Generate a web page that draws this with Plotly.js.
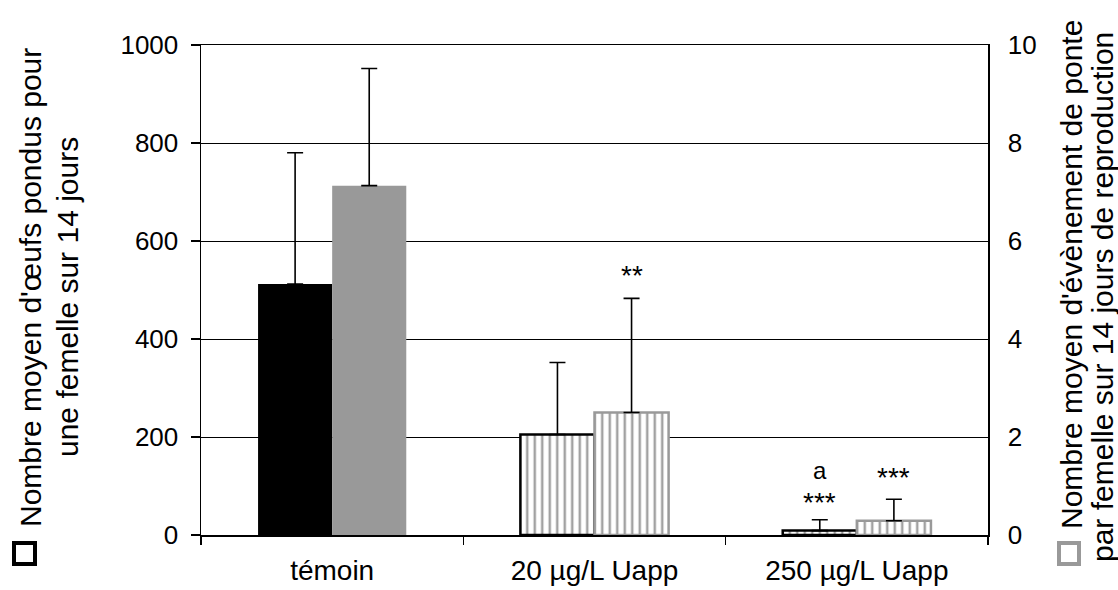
<!DOCTYPE html>
<html>
<head>
<meta charset="utf-8">
<script src="https://cdn.plot.ly/plotly-3.0.1.min.js"></script>
<style>html,body{margin:0;padding:0;background:#fff;}#chart{width:1118px;height:590px;}</style>
</head>
<body>
<div id="chart"></div>
<script>
// ---- data ----
var categories = ["témoin", "20 µg/L Uapp", "250 µg/L Uapp"];
var eggsMean = [512, 205, 9];
var eggsErrUp = [268, 147, 22];
var eventsMean = [7.13, 2.5, 0.29];
var eventsErrUp = [2.39, 2.33, 0.44];
var leftTicks = [0, 200, 400, 600, 800, 1000];
var rightTicks = [0, 2, 4, 6, 8, 10];
var leftTitle = ["Nombre moyen d'œufs pondus pour", "une femelle sur 14 jours"];
var rightTitle = ["Nombre moyen d'évènement de ponte", "par femelle sur 14 jours de reproduction"];
var sigLabels = [
  {cat: 1, series: "events", text: "**", y: 5.3, size: 28},
  {cat: 2, series: "eggs", text: "a", y: 131, size: 24},
  {cat: 2, series: "eggs", text: "***", y: 67, size: 28},
  {cat: 2, series: "events", text: "***", y: 1.18, size: 28}
];

// ---- layout helpers (pixel geometry) ----
var L = 201, R = 988, T = 45, B = 535;
function px(x){ return (x - L) / (R - L); }
function py(y){ return (B - y) / (B - T); }
var FONT = "Liberation Sans, Arial, sans-serif";
var GRAY = "#999999";

var eggs = {
  type: "bar", x: categories, y: eggsMean, yaxis: "y",
  offsetgroup: "1", alignmentgroup: "a",
  marker: {
    color: ["black", "white", "white"],
    line: {color: "black", width: [0, 2.5, 2.5]},
    pattern: {shape: ["", "|", "|"], fgcolor: "black", bgcolor: ["black", "white", "white"],
              fillmode: "overlay", size: 7.5, solidity: 0.33}
  },
  error_y: {type: "data", symmetric: false, array: eggsErrUp, arrayminus: [0,0,0],
            color: "black", thickness: 1.6, width: 8},
  showlegend: false, hoverinfo: "skip"
};
var events = {
  type: "bar", x: categories, y: eventsMean, yaxis: "y2",
  offsetgroup: "2", alignmentgroup: "a",
  marker: {
    color: [GRAY, "white", "white"],
    line: {color: GRAY, width: [0, 2.5, 2.5]},
    pattern: {shape: ["", "|", "|"], fgcolor: GRAY, bgcolor: [GRAY, "white", "white"],
              fillmode: "overlay", size: 7.5, solidity: 0.33}
  },
  error_y: {type: "data", symmetric: false, array: eventsErrUp, arrayminus: [0,0,0],
            color: "black", thickness: 1.6, width: 8},
  showlegend: false, hoverinfo: "skip"
};

var annotations = [];
sigLabels.forEach(function(s){
  annotations.push({
    x: categories[s.cat], xref: "x", y: s.y, yref: s.series === "eggs" ? "y" : "y2",
    xshift: s.series === "eggs" ? -37 : 37,
    text: s.text, showarrow: false, font: {family: FONT, size: s.size, color: "black"},
    xanchor: "center", yanchor: "middle"
  });
});
// axis titles
var TF = {family: FONT, size: 30, color: "black"};
annotations.push({xref: "paper", yref: "paper", x: px(30), y: py(288), text: leftTitle[0],
  textangle: -90, showarrow: false, font: TF, xanchor: "center", yanchor: "middle"});
annotations.push({xref: "paper", yref: "paper", x: px(67), y: py(297), text: leftTitle[1],
  textangle: -90, showarrow: false, font: TF, xanchor: "center", yanchor: "middle"});
annotations.push({xref: "paper", yref: "paper", x: px(1071), y: py(275), text: rightTitle[0],
  textangle: -90, showarrow: false, font: TF, xanchor: "center", yanchor: "middle"});
annotations.push({xref: "paper", yref: "paper", x: px(1102), y: py(297), text: rightTitle[1],
  textangle: -90, showarrow: false, font: TF, xanchor: "center", yanchor: "middle"});

var shapes = [
  {type: "rect", xref: "paper", yref: "paper", x0: px(14), x1: px(35), y0: py(564), y1: py(543),
   line: {color: "black", width: 4}, fillcolor: "white"},
  {type: "rect", xref: "paper", yref: "paper", x0: px(1059), x1: px(1079), y0: py(564), y1: py(543),
   line: {color: GRAY, width: 4}, fillcolor: "white"}
];

var layout = {
  width: 1118, height: 590,
  margin: {l: L, r: 1118 - R, t: T, b: 590 - B},
  paper_bgcolor: "white", plot_bgcolor: "white",
  barmode: "group", bargap: 0.435, bargroupgap: 0,
  font: {family: FONT, color: "black"},
  xaxis: {
    type: "category", categoryorder: "array", categoryarray: categories,
    showline: true, linecolor: "black", linewidth: 1.5, mirror: true,
    ticks: "outside", tickson: "boundaries", ticklen: 8, tickwidth: 1.5, tickcolor: "black",
    tickfont: {family: FONT, size: 28, color: "black"}, ticklabelstandoff: 10,
    showgrid: false, zeroline: false, fixedrange: true
  },
  yaxis: {
    range: [0, 1000], tickvals: leftTicks, ticktext: leftTicks.map(String),
    showline: true, linecolor: "black", linewidth: 1.5,
    ticks: "outside", ticklen: 9, tickwidth: 1.5, tickcolor: "black",
    showgrid: true, gridcolor: "black", gridwidth: 1, zeroline: false,
    tickfont: {family: FONT, size: 26, color: "black"}, ticklabelstandoff: 7, fixedrange: true
  },
  yaxis2: {
    range: [0, 10], tickvals: rightTicks, ticktext: rightTicks.map(String),
    overlaying: "y", side: "right",
    showline: true, linecolor: "black", linewidth: 1.5,
    ticks: "", showgrid: false, zeroline: false,
    tickfont: {family: FONT, size: 26, color: "black"}, ticklabelstandoff: 13, fixedrange: true
  },
  annotations: annotations,
  shapes: shapes
};

Plotly.newPlot("chart", [eggs, events], layout, {displayModeBar: false, staticPlot: true});
</script>
</body>
</html>
